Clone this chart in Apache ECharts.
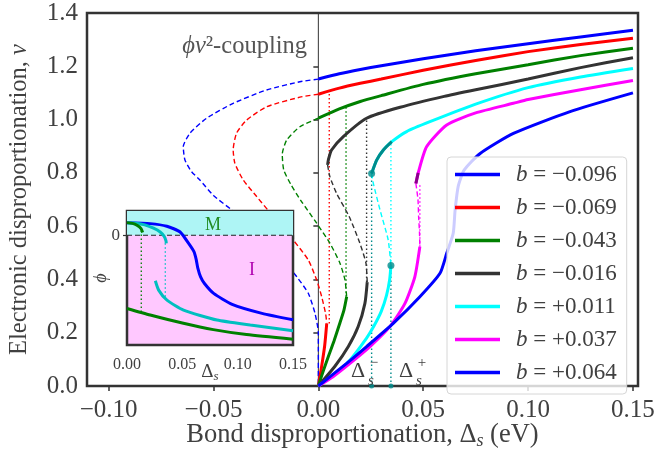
<!DOCTYPE html>
<html><head><meta charset="utf-8">
<script src="https://cdn.jsdelivr.net/npm/echarts@6/dist/echarts.min.js"></script>
<style>html,body{margin:0;padding:0;background:#fff}#c{width:657px;height:450px}</style>
</head><body><div id="c"></div>
<script>
// ---------- main panel data: nu vs Delta_s ----------
const legendNames = ['b = −0.096','b = −0.069','b = −0.043','b = −0.016','b = +0.011','b = +0.037','b = +0.064'];
const curveColors = ['#0000ff','#ff0000','#008000','#333333','#00ffff','#ff00ff','#0000ff'];
const xTicks = [-0.10,-0.05,0,0.05,0.10,0.15];
const yTicks = [0,0.2,0.4,0.6,0.8,1.0,1.2,1.4];

// b = -0.096
const b1Upper = [[0,1.152],[0.01,1.172],[0.02,1.188],[0.03,1.202],[0.05,1.228],[0.075,1.258],[0.10,1.285],[0.125,1.31],[0.15,1.335]];
const b1Dashed = [[0,1.152],[-0.0088,1.142],[-0.0247,1.111],[-0.0406,1.061],[-0.0533,1.005],[-0.0612,0.949],[-0.0644,0.898],[-0.0636,0.848],[-0.0605,0.805],[-0.0565,0.773],[-0.050,0.715],[-0.0414,0.661],[-0.0278,0.560],[-0.0183,0.485],[-0.0103,0.410],[-0.0048,0.348],[-0.0016,0.273],[0,0.198],[0,0]];
// b = -0.069
const b2Upper = [[0,1.095],[0.01,1.118],[0.02,1.136],[0.03,1.152],[0.05,1.185],[0.075,1.222],[0.10,1.255],[0.125,1.282],[0.15,1.305]];
const b2Dashed = [[0,1.095],[-0.0088,1.084],[-0.0247,1.048],[-0.0342,0.998],[-0.039,0.949],[-0.0406,0.886],[-0.0398,0.836],[-0.0358,0.773],[-0.0294,0.711],[-0.0238,0.658],[-0.012,0.548],[-0.0048,0.473],[-0.0008,0.398],[0.0016,0.335],[0.0035,0.27],[0.004,0.235]];
const b2Lower = [[0.004,0.235],[0.003,0.15],[0.0015,0.07],[0,0]];
// b = -0.043
const b3Upper = [[0,1.005],[0.01,1.04],[0.02,1.068],[0.03,1.09],[0.05,1.132],[0.075,1.172],[0.10,1.206],[0.125,1.24],[0.15,1.268]];
const b3Dashed = [[0,1.005],[-0.0088,0.973],[-0.0151,0.923],[-0.0172,0.87],[-0.0165,0.811],[-0.013,0.755],[-0.0085,0.698],[-0.0008,0.611],[0.0055,0.536],[0.0103,0.461],[0.0127,0.398],[0.0135,0.335]];
const b3Lower = [[0.0135,0.335],[0.0122,0.285],[0.0100,0.23],[0.0075,0.17],[0.0052,0.12],[0.0025,0.06],[0,0]];
// b = -0.016
const b4Upper = [[0.0044,0.83],[0.0048,0.85],[0.0063,0.886],[0.0119,0.936],[0.023,1.005],[0.039,1.046],[0.06,1.087],[0.075,1.112],[0.10,1.152],[0.125,1.195],[0.15,1.232]];
const b4Dashed = [[0.0044,0.83],[0.0055,0.786],[0.0087,0.723],[0.0147,0.636],[0.0198,0.536],[0.0227,0.461],[0.0233,0.39]];
const b4Lower = [[0.0233,0.39],[0.0222,0.31],[0.019,0.223],[0.0143,0.148],[0.008,0.075],[0,0]];
// b = +0.011
const b5Upper = [[0.0254,0.798],[0.0278,0.848],[0.031,0.886],[0.035,0.917],[0.0421,0.955],[0.0532,0.992],[0.075,1.058],[0.10,1.12],[0.125,1.16],[0.15,1.192]];
const b5Dashed = [[0.0254,0.798],[0.0262,0.761],[0.0294,0.661],[0.0333,0.548],[0.0346,0.452]];
const b5Lower = [[0.0346,0.452],[0.034,0.40],[0.0325,0.34],[0.030,0.28],[0.0265,0.225],[0.023,0.18],[0.0151,0.098],[0.007,0.04],[0,0]];
const b5Meta = [[0.0254,0.798],[0.0278,0.848],[0.031,0.886],[0.035,0.917]];
const b5Nodes = [[0.0254,0.798],[0.0346,0.452]];
// b = +0.037
const b6Upper = [[0.0465,0.76],[0.0476,0.80],[0.0516,0.898],[0.0612,0.98],[0.075,1.025],[0.093,1.061],[0.10,1.075],[0.125,1.112],[0.15,1.147]];
const b6Dashed = [[0.0465,0.76],[0.0475,0.70],[0.0478,0.636],[0.0482,0.58],[0.0484,0.523]];
const b6Lower = [[0.0484,0.523],[0.046,0.41],[0.0413,0.31],[0.0341,0.223],[0.0246,0.148],[0.0151,0.085],[0.007,0.035],[0,0]];
const b6Meta = [[0.0465,0.76],[0.0476,0.80]];
// b = +0.064
const b7Curve = [[0,0],[0.0135,0.085],[0.023,0.148],[0.0357,0.235],[0.0484,0.335],[0.058,0.423],[0.0612,0.498],[0.0643,0.573],[0.0652,0.66],[0.0667,0.75],[0.0695,0.81],[0.077,0.872],[0.093,0.948],[0.12,1.03],[0.15,1.10]];

// dotted jump lines
const jumpX    = [0.0052, 0.0132, 0.023, 0.0346, 0.0254, 0.0346, 0.0484];
const jumpLow  = [0.235, 0.335, 0.39, 0.452, 0, 0, 0.523];
const jumpHigh = [1.107, 1.048, 1.005, 0.917, 0.798, 0.452, 0.76];
const jumpColor= ['#ff0000','#008000','#333333','#00ffff','#008b8b','#008b8b','#ff00ff'];

// ---------- inset data: phi vs Delta_s ----------
const insXTicks = [0,0.05,0.10,0.15];
const insBlue = [[0,0.115],[0.021,0.106],[0.036,0.082],[0.048,0.030],[0.0557,-0.075],[0.0605,-0.15],[0.0625,-0.22],[0.0640,-0.30],[0.0665,-0.38],[0.0700,-0.44],[0.0783,-0.53],[0.095,-0.63],[0.122,-0.712],[0.15,-0.77]];
const insTealUp = [[0,0.115],[0.008,0.11],[0.016,0.095],[0.024,0.065],[0.030,0.03],[0.0336,-0.01],[0.0352,-0.05],[0.0355,-0.075]];
const insTealLow = [[0.0256,-0.415],[0.0286,-0.5],[0.0361,-0.591],[0.0511,-0.682],[0.0813,-0.773],[0.1114,-0.818],[0.15,-0.87]];
const insGreenUp = [[0,0.115],[0.005,0.108],[0.009,0.091],[0.0127,0.061],[0.0141,0.025]];
const insGreenLow = [[0,-0.667],[0.021,-0.727],[0.05,-0.80],[0.078,-0.86],[0.108,-0.905],[0.15,-0.948]];
const insJumpX = [0.0129, 0.0346];
const insJumpLow = [-0.70, -0.56];
const insJumpHigh = [0.061, -0.05];
const insJumpColor = ['#008000','#00bfbf'];
const insYMin = -1, insYMax = 0.221;

const FONT = '"Liberation Serif","DejaVu Serif",serif';
const TXT = '#404040';
const fmtSigned = (v, d) => (v < -1e-9 ? '−' : '') + Math.abs(v).toFixed(d);

const series = [];
function line(data, color, width, type, opts) {
  series.push(Object.assign({
    type: 'line', data: data, xAxisIndex: 0, yAxisIndex: 0,
    showSymbol: false, symbol: 'none', smooth: 0.2, z: 2,
    color: color,
    lineStyle: { color: color, width: width, type: type }
  }, opts || {}));
}
// vertical line at 0
line([[0,0],[0,1.4]], '#333333', 1, 'solid', {z: 1, smooth: false, name: '_v0'});

const uppers = [b1Upper,b2Upper,b3Upper,b4Upper,b5Upper,b6Upper,b7Curve];
const dashes = [b1Dashed,b2Dashed,b3Dashed,b4Dashed,b5Dashed,b6Dashed,null];
const lowers = [null,b2Lower,b3Lower,b4Lower,b5Lower,b6Lower,null];
for (let i = 0; i < 7; i++) {
  line(uppers[i], curveColors[i], 3, 'solid', {name: legendNames[i]});
  if (dashes[i]) line(dashes[i], curveColors[i], 1.4, [5,3], {name: '_d' + i});
  if (lowers[i]) line(lowers[i], curveColors[i], 3, 'solid', {name: '_l' + i});
}
for (let j = 0; j < jumpX.length; j++) {
  line([[jumpX[j], jumpLow[j]], [jumpX[j], jumpHigh[j]]], jumpColor[j], 1.4, [1.5,2.5], {smooth: false, name: '_j' + j, z: 1});
}
line(b5Meta, '#008b8b', 3, 'solid', {name: '_m5'});
line(b6Meta, '#8b008b', 3, 'solid', {name: '_m6'});
series.push({type: 'scatter', name: '_nodes', data: b5Nodes, symbolSize: 7, itemStyle: {color: '#008b8b'}, z: 3});
series.push({type: 'scatter', name: '_feet', data: [[jumpX[4],0],[jumpX[5],0]], symbolSize: 5, itemStyle: {color: '#008b8b'}, z: 3});

// inset
function iline(data, color, width, type, opts) {
  series.push(Object.assign({
    type: 'line', data: data, xAxisIndex: 1, yAxisIndex: 1,
    showSymbol: false, symbol: 'none', smooth: 0.2, z: 7,
    color: color, lineStyle: { color: color, width: width, type: type }
  }, opts || {}));
}
iline([[0,insYMax],[0.15,insYMax]], '#aef5f5', 0, 'solid', {z: 6, smooth: false, name: '_M', areaStyle: {color: '#aef5f5', opacity: 1, origin: 0}});
iline([[0,0],[0.15,0]], '#222222', 1.2, [5,3], {smooth: false, name: '_zero'});
for (let j = 0; j < insJumpX.length; j++) {
  iline([[insJumpX[j], insJumpLow[j]],[insJumpX[j], insJumpHigh[j]]], insJumpColor[j], 1.3, [1.5,2.5], {smooth: false, name: '_ij' + j});
}
iline(insGreenLow, '#008000', 3, 'solid', {name: '_ig1'});
iline(insTealLow, '#00bfbf', 3, 'solid', {name: '_it1'});
iline(insBlue, '#0000ff', 3, 'solid', {name: '_ib'});
iline(insTealUp, '#00bfbf', 3, 'solid', {name: '_it0'});
iline(insGreenUp, '#008000', 3, 'solid', {name: '_ig0'});

const chart = echarts.init(document.getElementById('c'), null, {renderer: 'canvas'});
chart.setOption({
  animation: false,
  backgroundColor: '#ffffff',
  grid: [
    {left: 87, top: 13, width: 551, height: 373, show: true, borderColor: '#333', borderWidth: 2.5, backgroundColor: 'transparent', containLabel: false, outerBoundsMode: 'none'},
    {left: 127, top: 211, width: 166, height: 134, show: true, borderColor: '#333', borderWidth: 2.5, backgroundColor: '#ffc8ff', z: 5, containLabel: false, outerBoundsMode: 'none'}
  ],
  xAxis: [
    {type: 'value', gridIndex: 0, min: -0.1103, max: 0.1524,
     axisLine: {show: false}, splitLine: {show: false},
     axisTick: {show: true, inside: false, length: 5, lineStyle: {color: '#333', width: 1.5}, customValues: xTicks},
     axisLabel: {customValues: xTicks, formatter: v => fmtSigned(v, 2), fontFamily: FONT, fontSize: 25, color: TXT, margin: 12},
     name: 'Bond disproportionation, Δ{s|s} (eV)', nameLocation: 'middle', nameGap: 35, nameMoveOverlap: false,
     nameTextStyle: {fontFamily: FONT, fontSize: 26.5, color: TXT, rich: {s: {fontFamily: FONT, fontStyle: 'italic', fontSize: 18, color: TXT, padding: [11,0,0,0]}}}},
    {type: 'value', gridIndex: 1, min: 0, max: 0.15, interval: 0.05,
     axisLine: {show: false}, splitLine: {show: false},
     axisTick: {show: true, inside: false, length: 4, lineStyle: {color: '#333', width: 1.2}},
     axisLabel: {formatter: v => v.toFixed(2), fontFamily: FONT, fontSize: 16, color: TXT, margin: 12},
     name: 'Δ{s|s}', nameLocation: 'middle', nameGap: 17, nameMoveOverlap: false,
     nameTextStyle: {fontFamily: FONT, fontSize: 19, color: TXT, rich: {s: {fontFamily: FONT, fontStyle: 'italic', fontSize: 13, color: TXT, padding: [8,0,0,0]}}}}
  ],
  yAxis: [
    {type: 'value', gridIndex: 0, min: 0, max: 1.4, interval: 0.2,
     axisLine: {show: false}, splitLine: {show: false},
     axisTick: {show: true, inside: false, length: 5, lineStyle: {color: '#333', width: 1.5}},
     axisLabel: {formatter: v => v.toFixed(1), fontFamily: FONT, fontSize: 25, color: TXT, margin: 9},
     name: 'Electronic disproportionation, {i|ν}', nameLocation: 'middle', nameGap: 55, nameMoveOverlap: false,
     nameTextStyle: {fontFamily: FONT, fontSize: 24.5, color: TXT, rich: {i: {fontFamily: FONT, fontStyle: 'italic', fontSize: 24.5, color: TXT}}}},
    {type: 'value', gridIndex: 1, min: insYMin, max: insYMax,
     axisLine: {show: false}, splitLine: {show: false},
     axisTick: {show: true, inside: false, length: 4, lineStyle: {color: '#333', width: 1.2}, customValues: [0]},
     axisLabel: {customValues: [0], formatter: v => String(Math.round(v)), fontFamily: FONT, fontSize: 17, color: TXT, margin: 7},
     name: 'ϕ', nameLocation: 'middle', nameGap: 17, nameMoveOverlap: false,
     nameTextStyle: {fontFamily: FONT, fontStyle: 'italic', fontSize: 18, color: TXT}}
  ],
  legend: {
    data: legendNames, orient: 'vertical', left: 447, top: 157, selectedMode: false,
    icon: 'rect', itemWidth: 45, itemHeight: 3.5, itemGap: 10,
    padding: [6, 10, 10, 8],
    backgroundColor: 'rgba(255,255,255,0.8)', borderColor: '#d6d6d6', borderWidth: 1, borderRadius: 4,
    formatter: n => '{i|b}' + n.slice(1),
    textStyle: {fontFamily: FONT, fontSize: 23, color: TXT, lineHeight: 20, padding: [0,0,0,11],
      rich: {i: {fontFamily: FONT, fontStyle: 'italic', fontSize: 23, color: TXT, lineHeight: 20}}}
  },
  graphic: [
    {type: 'text', x: 307, y: 47, z: 100, style: {text: '{i|ϕν}²-coupling', align: 'right', verticalAlign: 'middle', fontFamily: FONT, fontSize: 24.5, fill: '#555',
      rich: {i: {fontFamily: FONT, fontStyle: 'italic', fontSize: 24.5, fill: '#555'}}}},
    {type: 'text', x: 213, y: 225, z: 100, style: {text: 'M', align: 'center', verticalAlign: 'middle', fontFamily: FONT, fontSize: 18, fill: '#228b22'}},
    {type: 'text', x: 252, y: 270, z: 100, style: {text: 'I', align: 'center', verticalAlign: 'middle', fontFamily: FONT, fontSize: 18, fill: '#b000b0'}},
    {type: 'text', x: 358, y: 371, z: 100, style: {text: 'Δ', align: 'center', verticalAlign: 'middle', fontFamily: FONT, fontSize: 22, fill: TXT}},
    {type: 'text', x: 374, y: 363, z: 100, style: {text: '−', align: 'center', verticalAlign: 'middle', fontFamily: FONT, fontSize: 15, fill: TXT}},
    {type: 'text', x: 371, y: 381, z: 100, style: {text: 's', align: 'center', verticalAlign: 'middle', fontFamily: FONT, fontStyle: 'italic', fontSize: 15, fill: TXT}},
    {type: 'text', x: 406, y: 371, z: 100, style: {text: 'Δ', align: 'center', verticalAlign: 'middle', fontFamily: FONT, fontSize: 22, fill: TXT}},
    {type: 'text', x: 422, y: 363, z: 100, style: {text: '+', align: 'center', verticalAlign: 'middle', fontFamily: FONT, fontSize: 15, fill: TXT}},
    {type: 'text', x: 419, y: 381, z: 100, style: {text: 's', align: 'center', verticalAlign: 'middle', fontFamily: FONT, fontStyle: 'italic', fontSize: 15, fill: TXT}}
  ],
  series: series
});
</script></body></html>
